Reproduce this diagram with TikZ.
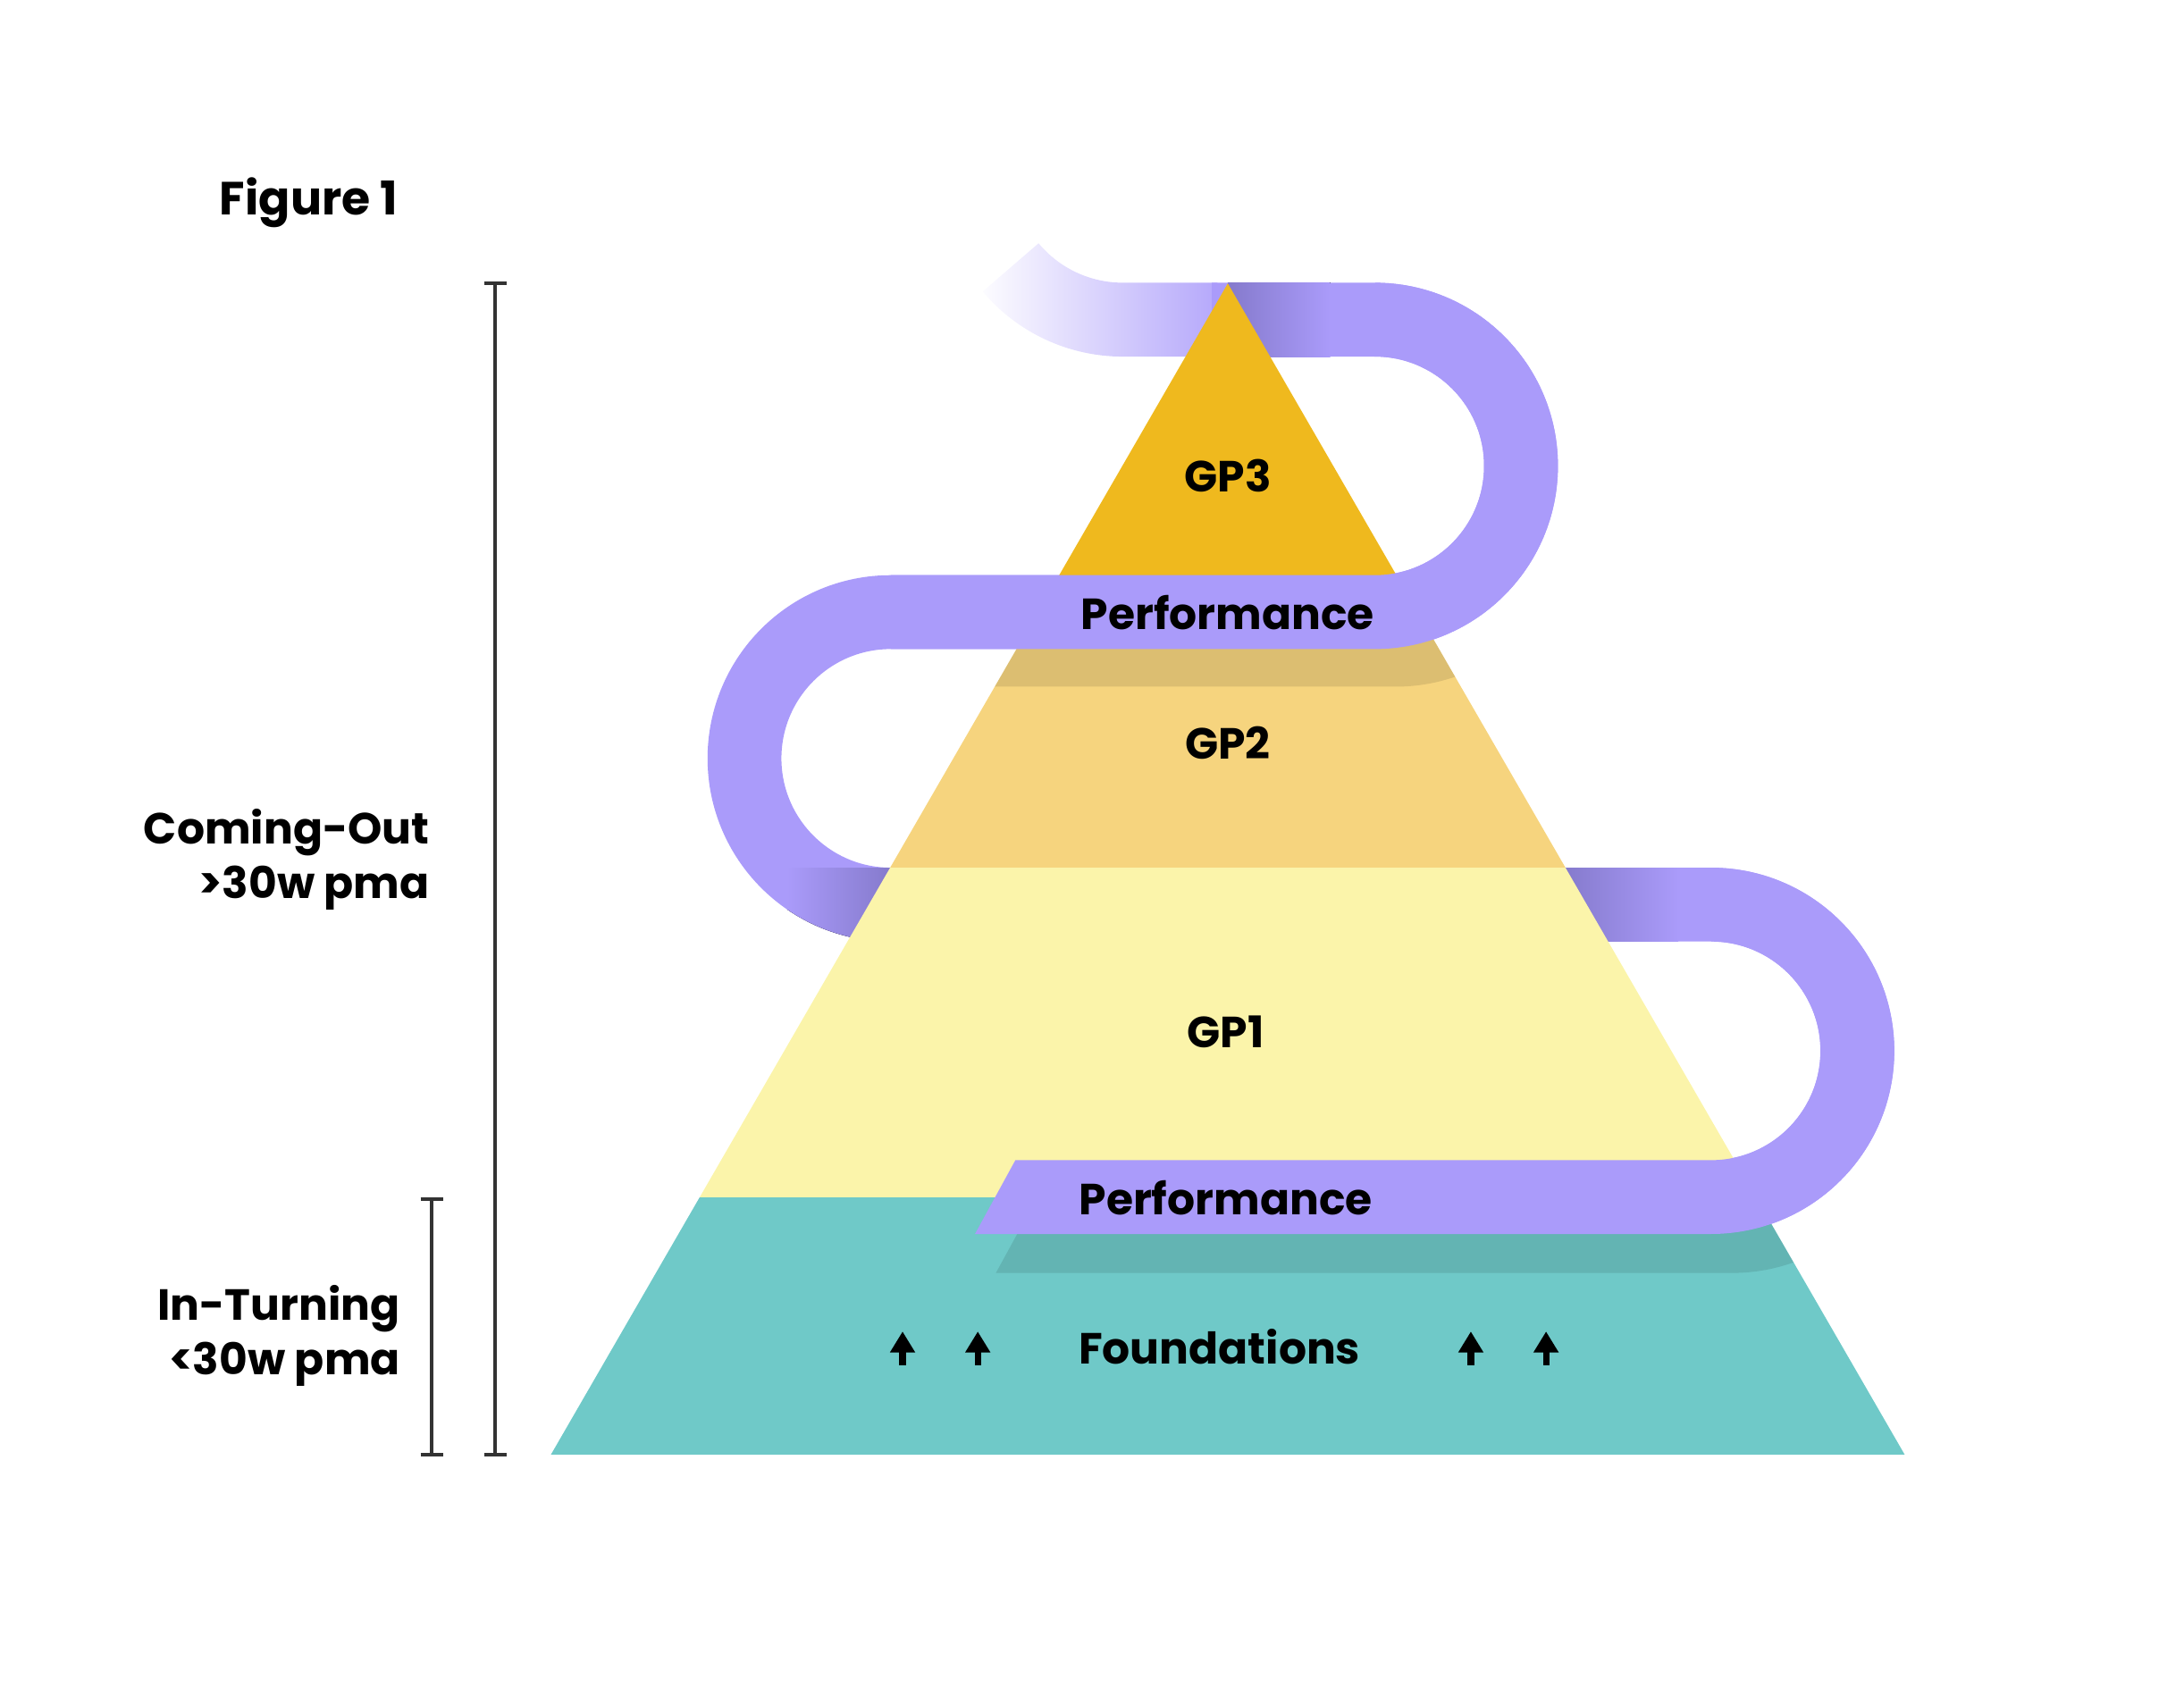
\documentclass[tikz,border=0pt]{standalone}
\usepackage{fontspec}
\setmainfont{Poppins}
\usepackage{xcolor}
\usetikzlibrary{arrows.meta, fadings}

\definecolor{gpthree}{RGB}{239,185,30}
\definecolor{gptwo}{RGB}{246,212,126}
\definecolor{gpone}{RGB}{251,244,170}
\definecolor{basecol}{RGB}{111,201,200}
\definecolor{lav}{RGB}{170,155,250}
\definecolor{lavdark}{RGB}{133,122,204}

\tikzfading[name=fadein, left color=transparent!100, middle color=transparent!82, right color=transparent!0]

\begin{document}
\begin{tikzpicture}[
    x=0.01cm, y=-0.01cm,
    every node/.style={font=\fontsize{8.9}{11.1}\selectfont\bfseries, inner sep=0pt},
    band/.style={draw=lav, line width=0.53cm},
    bracket/.style={draw=black!80, line width=0.7pt},
    uparrow/.style={line width=1.3pt, -{Triangle[width=0.17cm, length=0.15cm]}},
  ]
    \def\Ax{881.5}    % 塔顶 x
    \def\Ay{203.5}    % 塔顶 y
    \def\By{1044.5}   % 塔底 y
    \def\Hw{486}      % 塔底半宽
    \def\rad{105}     % 带子中线半径

    \useasboundingbox (0,0) rectangle (1568,1211);

    % 下方带子轮廓（前面和投影各用一次）
    \def\lowband{(729,833) -- (1228.5,833) arc[start angle=90, end angle=-90, radius=78.5]
      -- (1228.5,623) arc[start angle=-90, end angle=90, radius=131.5] -- (700,886) -- cycle}

    % 带子：塔后面的部分
    \draw[band, path fading=fadein] (806,124.5) ++(140:\rad)
      arc[start angle=140, end angle=90, radius=\rad] -- (874,229.5);
    \draw[band] (870,229.5) -- (987,229.5) arc[start angle=-90, end angle=90, radius=\rad]
      -- (639.5,439.5) arc[start angle=270, end angle=90, radius=\rad]
      -- (1228.5,649.5) arc[start angle=-90, end angle=90, radius=\rad] -- (1230,859.5);

    % 带子进出塔身处的暗部
    \fill[left color=lavdark, right color=lav] (\Ax,203) rectangle (955,256);
    \fill[left color=lavdark, right color=lav] (1122,623) rectangle (1205,676);
    \begin{scope}
      \clip (639.5,544.5) circle[radius=131.5];
      \fill[left color=lav, right color=lavdark] (565,623) rectangle (640,677);
    \end{scope}

    % 金字塔各层
    \begin{scope}
      \clip (\Ax,\Ay) -- (\Ax+\Hw,\By) -- (\Ax-\Hw,\By) -- cycle;
      \fill[gpthree] (380,\Ay) rectangle (1390,439.5);
      \fill[gptwo]   (380,439.5) rectangle (1390,623);
      \fill[gpone]   (380,623) rectangle (1390,860);
      \fill[basecol] (380,860) rectangle (1390,\By);
      % 带子投影
      \draw[band, draw=black, draw opacity=0.1, shift={(15,27)}]
        (639.5,439.5) -- (987,439.5) arc[start angle=90, end angle=-90, radius=\rad];
      \fill[black, fill opacity=0.1, shift={(15,28)}] \lowband;
    \end{scope}

    % 带子：塔前面的部分
    \draw[band] (987,229.5) arc[start angle=-90, end angle=90, radius=\rad] -- (639.5,439.5);
    \fill[lav] \lowband;

    % 各层文字
    \node[anchor=base west, font=\fontsize{9.5}{11.1}\selectfont\bfseries] (title) at (157,154) {Figure 1};
    \node[anchor=base] (gp3) at (\Ax,353) {GP3};
    \node[anchor=base] (perfup) at (881.5,452) {Performance};
    \node[anchor=base] (gp2) at (\Ax,545) {GP2};
    \node[anchor=base] (gp1) at (880,752) {GP1};
    \node[anchor=base] (perflow) at (880,872.5) {Performance};
    \node[anchor=base] (found) at (875.5,979.5) {Foundations};

    % 向上的小箭头
    \foreach \ax in {648, 702, 1056, 1110} {
      \draw[uparrow] (\ax,980) -- (\ax,956);
    }

    % 左侧阶段标注
    \node[anchor=north east, align=right] (comeout) at (309,580) {Coming-Out\\>30w pma};
    \node[anchor=north east, align=right] (inturn) at (288,922) {In-Turning\\<30w pma};

    \coordinate (coTop) at (355.5,\Ay);
    \coordinate (coBot) at (355.5,\By);
    \coordinate (inTop) at (310,861);
    \coordinate (inBot) at (310,\By);
    \draw[bracket] (coTop) -- (coBot);
    \draw[bracket] (coTop) ++(-8,0) -- ++(16,0);
    \draw[bracket] (coBot) ++(-8,0) -- ++(16,0);
    \draw[bracket] (inTop) -- (inBot);
    \draw[bracket] (inTop) ++(-8,0) -- ++(16,0);
    \draw[bracket] (inBot) ++(-8,0) -- ++(16,0);
  \end{tikzpicture}
\end{document}
